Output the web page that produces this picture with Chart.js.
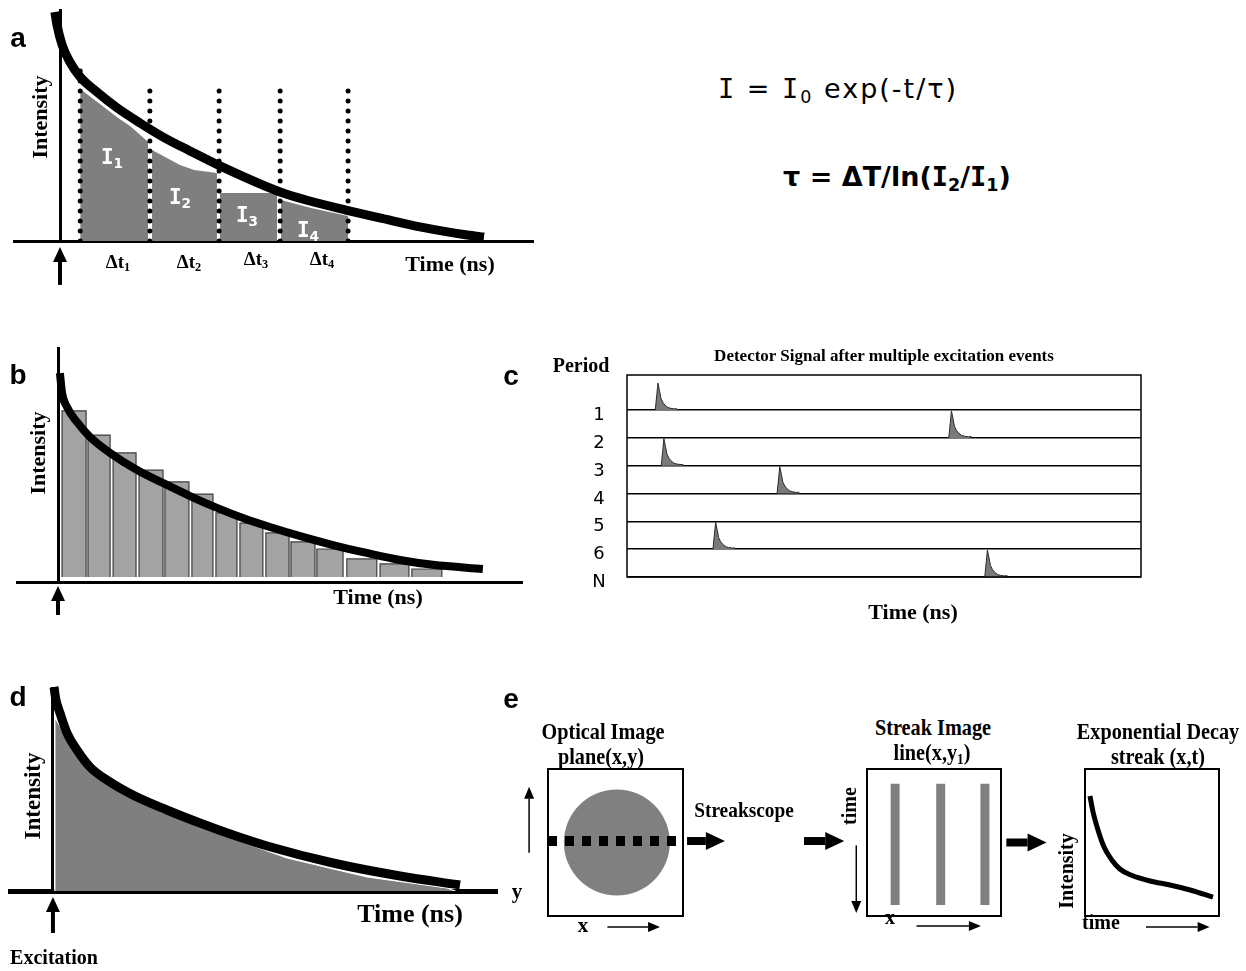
<!DOCTYPE html>
<html>
<head>
<meta charset="utf-8">
<script src="https://cdn.jsdelivr.net/npm/chart.js@4.4.0/dist/chart.umd.min.js"></script>
<style>
  body { margin: 0; background: #fff; }
  #fig { position: relative; width: 1246px; height: 971px; overflow: hidden; background: #fff; }
  #fig canvas { position: absolute; }
  .t { position: absolute; white-space: nowrap; line-height: 1; color: #000; transform: translate(-50%, -50%); }
  .t sub { font-size: 65%; vertical-align: -0.3em; line-height: 0; }
  .t .I { font-family: "DejaVu Sans Mono", monospace; }
</style>
</head>
<body>
<div id="fig">
  <canvas id="ca" width="540" height="300" style="left:0;top:0"></canvas>
  <canvas id="cb" width="540" height="300" style="left:0;top:330px"></canvas>
  <canvas id="cc" width="620" height="260" style="left:540px;top:340px"></canvas>
  <canvas id="cd" width="520" height="301" style="left:0;top:670px"></canvas>
  <canvas id="ce1" width="230" height="185" style="left:505px;top:760px"></canvas>
  <canvas id="ce2" width="265" height="185" style="left:790px;top:760px"></canvas>
  <canvas id="ce3" width="206" height="185" style="left:1040px;top:760px"></canvas>
</div>
<script>
// ---- data (time in ns, intensity in arbitrary units) ----

// panel a: decay curve and four gates
const decayT = [-0.12, -0.07, 0.05, 0.23, 0.47, 0.86, 1.33, 1.86, 2.4, 3.02, 3.72, 5.12, 5.81, 6.65, 7.44, 8.37, 9.47, 9.86];
const decayI = [9.91, 9.35, 8.48, 7.75, 7.1, 6.45, 5.76, 5.11, 4.5, 3.9, 3.25, 2.12, 1.73, 1.34, 1.0, 0.61, 0.26, 0.17];
const gateT = [[0.47, 1.02, 1.35, 1.63, 2.05], [2.14, 2.79, 3.12, 3.65], [3.72, 5.05], [5.14, 5.84, 6.7]];
const gateTop = [[6.58, 5.8, 5.32, 4.98, 4.29], [3.94, 3.29, 3.07, 2.94], [2.08, 2.08], [1.77, 1.43, 1.08]];
const gateEdgeT = [0.47, 2.09, 3.7, 5.12, 6.7];
const gateEdgeTop = [7.49, 6.88, 6.88, 6.88, 6.84];

// panel b: TCSPC histogram and fit
const binStart = [0.15, 1.11, 2.04, 3.0, 3.96, 4.96, 5.85, 6.74, 7.7, 8.63, 9.59, 10.7, 11.93, 13.11];
const binEnd = [1.04, 1.93, 2.89, 3.89, 4.85, 5.74, 6.63, 7.59, 8.56, 9.52, 10.56, 11.81, 13.0, 14.22];
const binCounts = [7.55, 6.45, 5.64, 4.86, 4.32, 3.77, 2.91, 2.45, 2.0, 1.59, 1.27, 0.82, 0.59, 0.36];
const fitT = [0.07, 0.15, 0.33, 0.7, 1.19, 1.93, 2.93, 3.89, 4.89, 5.89, 6.85, 7.85, 9.07, 10.19, 11.44, 12.67, 13.89, 15.74];
const fitI = [9.27, 8.36, 7.73, 7.05, 6.36, 5.64, 4.86, 4.27, 3.68, 3.14, 2.68, 2.27, 1.82, 1.45, 1.09, 0.77, 0.55, 0.36];

// panel c: detector signal per excitation period
const periods = ['1', '2', '3', '4', '5', '6', 'N'];
const periodBase = [6, 5, 4, 3, 2, 1, 0];
const eventStart = [2.75, 31.3, 3.33, 14.6, null, 8.36, 34.8];
const pulseDt = [0, 0.15, 0.26, 0.41, 0.55, 0.75, 0.94, 1.24, 1.53, 1.92, 2.11, 2.16];
const pulseH = [0, 0.55, 0.97, 0.7, 0.42, 0.27, 0.18, 0.09, 0.06, 0.04, 0.05, 0];

// panel d: full decay and measured signal
const dT = [0.04, 0.11, 0.26, 0.52, 0.89, 1.37, 2.0, 2.96, 4.22, 5.44, 6.67, 7.93, 10.37, 12.85, 15.07];
const dI = [10.2, 9.55, 8.9, 7.9, 7.05, 6.2, 5.55, 4.8, 4.05, 3.4, 2.8, 2.25, 1.4, 0.75, 0.3];
const measT = [0.07, 0.07, 0.74, 2.11, 3.22, 5.44, 8.67, 11.63, 14.59, 14.9];
const measI = [0, 8.7, 7.05, 5.4, 4.55, 3.2, 1.65, 0.7, 0.15, 0];

// panel e: streak camera sketch (unit boxes)
const spotCenter = [0.51, 0.5];
const scanLineY = 0.51;
const streakX = [0.21, 0.55, 0.88];
const streakSpan = [0.075, 0.9];
const streakDecayX = [0.037, 0.06, 0.097, 0.142, 0.2, 0.26, 0.343, 0.485, 0.634, 0.784, 0.955];
const streakDecayY = [0.816, 0.707, 0.585, 0.469, 0.381, 0.32, 0.279, 0.238, 0.211, 0.177, 0.129];

// ---- helpers ----
Chart.defaults.animation = false;
Chart.defaults.elements.point.radius = 0;
Chart.defaults.elements.point.hoverRadius = 0;

const xy = (xs, ys) => xs.map((v, i) => ({ x: v, y: ys[i] }));

// arrows given in data units of the chart they sit on
Chart.register({
  id: 'arrows',
  afterDraw(chart, args, opts) {
    if (!opts.list) return;
    const { ctx, scales: { x, y } } = chart;
    ctx.save();
    ctx.fillStyle = ctx.strokeStyle = '#000';
    opts.list.forEach(a => {
      const x1 = x.getPixelForValue(a.from[0]), y1 = y.getPixelForValue(a.from[1]);
      const x2 = x.getPixelForValue(a.to[0]), y2 = y.getPixelForValue(a.to[1]);
      const ang = Math.atan2(y2 - y1, x2 - x1), c = Math.cos(ang), s = Math.sin(ang);
      ctx.lineWidth = a.width;
      ctx.beginPath();
      ctx.moveTo(x1, y1);
      ctx.lineTo(x2 - a.head * c, y2 - a.head * s);
      ctx.stroke();
      ctx.beginPath();
      ctx.moveTo(x2, y2);
      ctx.lineTo(x2 - a.head * c - a.half * s, y2 - a.head * s + a.half * c);
      ctx.lineTo(x2 - a.head * c + a.half * s, y2 - a.head * s - a.half * c);
      ctx.closePath();
      ctx.fill();
    });
    ctx.restore();
  }
});

// box around the plot area
Chart.register({
  id: 'frame',
  afterDatasetsDraw(chart, args, opts) {
    if (!opts.on) return;
    const { ctx, chartArea: a } = chart;
    ctx.save();
    ctx.strokeStyle = '#000';
    ctx.lineWidth = opts.width;
    ctx.strokeRect(a.left, a.top, a.right - a.left, a.bottom - a.top);
    ctx.restore();
  }
});

function options(padding, scales, plugins) {
  return {
    responsive: false,
    animation: false,
    events: [],
    layout: { padding, autoPadding: false },
    plugins: Object.assign({ legend: { display: false }, tooltip: { enabled: false } }, plugins),
    scales
  };
}

function decayScales(xmin, xmax, ymin, ymax, baseW) {
  return {
    x: { type: 'linear', min: xmin, max: xmax, grid: { display: false, drawTicks: false },
         ticks: { display: false }, border: { color: '#000', width: baseW } },
    y: { type: 'linear', min: ymin, max: ymax, position: { x: 0 }, grid: { display: false, drawTicks: false },
         ticks: { display: false }, border: { color: '#000', width: 3 } }
  };
}

const hidden = (min, max) => ({ type: 'linear', min, max, display: false });
const excitation = (y1, y2) => ({ list: [{ from: [0, y1], to: [0, y2], width: 4, head: 15, half: 7 }] });

// ---- panel a ----
new Chart(document.getElementById('ca'), {
  type: 'line',
  data: {
    datasets: [
      { data: xy(decayT, decayI), borderColor: '#000', borderWidth: 9, cubicInterpolationMode: 'monotone', clip: false },
      ...gateEdgeT.map((t, i) => ({
        data: [{ x: t, y: 0 }, { x: t, y: gateEdgeTop[i] }],
        borderColor: '#000', borderWidth: 5, borderDash: [0, 10], borderCapStyle: 'round'
      })),
      ...gateT.map((ts, g) => ({
        data: [{ x: ts[0], y: 0 }, ...xy(ts, gateTop[g]), { x: ts[ts.length - 1], y: 0 }],
        fill: 'origin', backgroundColor: '#7f7f7f', borderWidth: 0
      }))
    ]
  },
  options: options({ left: 14, right: 7, top: 10, bottom: 59 },
    decayScales(-1.07, 11.0, 0, 10, 3), { arrows: excitation(-1.9, -0.26) })
});

// ---- panel b ----
new Chart(document.getElementById('cb'), {
  type: 'line',
  data: {
    datasets: [
      { data: xy(fitT, fitI), borderColor: '#000', borderWidth: 8, cubicInterpolationMode: 'monotone', clip: false },
      ...binStart.map((s, i) => ({
        data: [{ x: s, y: 0 }, { x: s, y: binCounts[i] }, { x: binEnd[i], y: binCounts[i] }, { x: binEnd[i], y: 0 }],
        fill: 'origin', backgroundColor: '#a3a3a3', borderColor: '#3c3c3c', borderWidth: 1.2
      }))
    ]
  },
  options: options({ left: 17, right: 18, top: 18, bottom: 48 },
    decayScales(-1.52, 17.19, -0.23, 10.41, 3), { arrows: excitation(-1.73, -0.41) })
});

// ---- panel c ----
const cChart = new Chart(document.getElementById('cc'), {
  type: 'line',
  data: {
    datasets: eventStart.map((t0, r) => t0 === null ? null : {
      data: xy(pulseDt.map(d => t0 + d), pulseH.map(h => periodBase[r] + h)),
      fill: { value: periodBase[r] }, backgroundColor: '#7a7a7a', borderColor: '#2a2a2a', borderWidth: 1
    }).filter(Boolean)
  },
  options: options({ left: 87, right: 19, top: 35, bottom: 23 }, {
    x: hidden(0, 50),
    y: { type: 'linear', min: 0, max: 7.26,
         afterBuildTicks: s => { s.ticks = periodBase.map(v => ({ value: v })); },
         grid: { color: '#000', lineWidth: 1.5, drawTicks: false }, ticks: { display: false }, border: { display: false } }
  }, { frame: { on: true, width: 1.5 } })
});

// ---- panel d ----
new Chart(document.getElementById('cd'), {
  type: 'line',
  data: {
    datasets: [
      { data: xy(dT, dI), borderColor: '#000', borderWidth: 9, cubicInterpolationMode: 'monotone', clip: false },
      { data: xy(measT, measI), fill: 'origin', backgroundColor: '#7f7f7f', borderColor: '#fff', borderWidth: 1.2 }
    ]
  },
  options: options({ left: 10, right: 23, top: 18, bottom: 80 },
    decayScales(-1.59, 16.44, 0, 10.15, 5), { arrows: excitation(-2.1, -0.3) })
});

// ---- panel e ----
const thick = (from, to) => ({ from, to, width: 8, head: 19, half: 9 });
const thin = (from, to) => ({ from, to, width: 1.5, head: 12, half: 5 });

new Chart(document.getElementById('ce1'), {
  type: 'line',
  data: {
    datasets: [
      { data: [{ x: 0, y: scanLineY }, { x: 0.95, y: scanLineY }], borderColor: '#000', borderWidth: 10,
        borderDash: [9, 8], borderCapStyle: 'butt', clip: false },
      { data: [{ x: spotCenter[0], y: spotCenter[1] }], showLine: false, pointRadius: 53,
        pointBackgroundColor: '#808080', pointBorderWidth: 0 }
    ]
  },
  options: options({ left: 43, right: 52, top: 9, bottom: 29 }, { x: hidden(0, 1), y: hidden(0, 1) }, {
    frame: { on: true, width: 2 },
    arrows: { list: [thin([-0.14, 0.43], [-0.14, 0.88]), thin([0.44, -0.075], [0.83, -0.075]),
                     thick([1.03, 0.51], [1.31, 0.51])] }
  })
});

new Chart(document.getElementById('ce2'), {
  type: 'line',
  data: {
    datasets: streakX.map(x => ({
      data: [{ x, y: streakSpan[0] }, { x, y: streakSpan[1] }],
      borderColor: '#808080', borderWidth: 9, borderCapStyle: 'butt'
    }))
  },
  options: options({ left: 77, right: 54, top: 9, bottom: 29 }, { x: hidden(0, 1), y: hidden(0, 1) }, {
    frame: { on: true, width: 2 },
    arrows: { list: [thick([-0.47, 0.51], [-0.17, 0.51]), thin([-0.08, 0.48], [-0.08, 0.02]),
                     thin([0.37, -0.068], [0.85, -0.068]), thick([1.04, 0.5], [1.34, 0.5])] }
  })
});

new Chart(document.getElementById('ce3'), {
  type: 'line',
  data: {
    datasets: [{ data: xy(streakDecayX, streakDecayY), borderColor: '#000', borderWidth: 5,
                 cubicInterpolationMode: 'monotone' }]
  },
  options: options({ left: 45, right: 27, top: 9, bottom: 29 }, { x: hidden(0, 1), y: hidden(0, 1) }, {
    frame: { on: true, width: 2 },
    arrows: { list: [thin([0.455, -0.075], [0.93, -0.075])] }
  })
});

// ---- text ----
const fig = document.getElementById('fig');
function put(html, x, y, css) {
  const d = document.createElement('div');
  d.className = 't';
  d.innerHTML = html;
  d.style.cssText = 'left:' + x + 'px;top:' + y + 'px;' + css;
  fig.appendChild(d);
}
const SERIF = 'font-family:"Liberation Serif",serif;font-weight:bold;';
const LETTER = 'font-family:"Liberation Sans",sans-serif;font-weight:bold;font-size:28px;';
const ROUND = 'font-family:"DejaVu Sans",sans-serif;';
const ROT = 'transform:translate(-50%,-50%) rotate(-90deg);';
const NARROW = 'transform:translate(-50%,-50%) scaleX(0.88);';
const I = '<span class="I">I</span>';

['a', 'b', 'c', 'd', 'e'].forEach((l, i) => {
  const pos = [[18, 38], [18, 375], [511, 376], [18, 697], [511, 699]][i];
  put(l, pos[0], pos[1], LETTER);
});

// panel a
put('Intensity', 40, 117, SERIF + 'font-size:22px;' + ROT);
put('Time (ns)', 450, 264, SERIF + 'font-size:22px;');
[[112, 157], [180, 197], [247, 215], [308, 230]].forEach((p, i) =>
  put(I + '<sub>' + (i + 1) + '</sub>', p[0], p[1], ROUND + 'font-weight:bold;font-size:21px;color:#fff;'));
[[118, 261], [189, 261], [256, 258], [322, 258]].forEach((p, i) =>
  put('&Delta;t<sub>' + (i + 1) + '</sub>', p[0], p[1], SERIF + 'font-size:19px;'));
put(I + ' = ' + I + '<sub>0</sub> exp(-t/&tau;)', 838, 88, ROUND + 'font-size:27px;letter-spacing:2px;');
put('&tau; = &Delta;T/ln(' + I + '<sub>2</sub>/' + I + '<sub>1</sub>)', 897, 176, ROUND + 'font-weight:bold;font-size:27px;');

// panel b
put('Intensity', 38, 453, SERIF + 'font-size:22px;' + ROT);
put('Time (ns)', 378, 597, SERIF + 'font-size:22px;');

// panel c
put('Period', 581, 365, SERIF + 'font-size:20px;');
put('Detector Signal after multiple excitation events', 884, 355, SERIF + 'font-size:17px;');
periods.forEach((p, i) => {
  const py = 340 + cChart.scales.y.getPixelForValue(periodBase[i]) + 4;
  put(p, 599, py, ROUND + 'font-size:18px;');
});
put('Time (ns)', 913, 612, SERIF + 'font-size:22px;');

// panel d
put('Intensity', 32, 796, SERIF + 'font-size:23px;' + ROT);
put('Time (ns)', 410, 914, SERIF + 'font-size:26px;');
put('Excitation', 54, 957, SERIF + 'font-size:20px;');

// panel e
put('Optical Image', 603, 731, SERIF + 'font-size:23px;' + NARROW);
put('plane(x,y)', 601, 756, SERIF + 'font-size:23px;' + NARROW);
put('y', 517, 891, SERIF + 'font-size:21px;');
put('x', 583, 925, SERIF + 'font-size:21px;');
put('Streakscope', 744, 810, SERIF + 'font-size:22px;' + NARROW);
put('time', 849, 806, SERIF + 'font-size:20px;' + ROT);
put('Streak Image', 933, 727, SERIF + 'font-size:23px;' + NARROW);
put('line(x,y<sub>1</sub>)', 932, 752, SERIF + 'font-size:23px;' + NARROW);
put('x', 890, 917, SERIF + 'font-size:20px;');
put('Exponential Decay', 1158, 731, SERIF + 'font-size:23px;' + NARROW);
put('streak (x,t)', 1158, 756, SERIF + 'font-size:23px;' + NARROW);
put('Intensity', 1066, 871, SERIF + 'font-size:20px;' + ROT);
put('time', 1101, 922, SERIF + 'font-size:20px;');
</script>
</body>
</html>
